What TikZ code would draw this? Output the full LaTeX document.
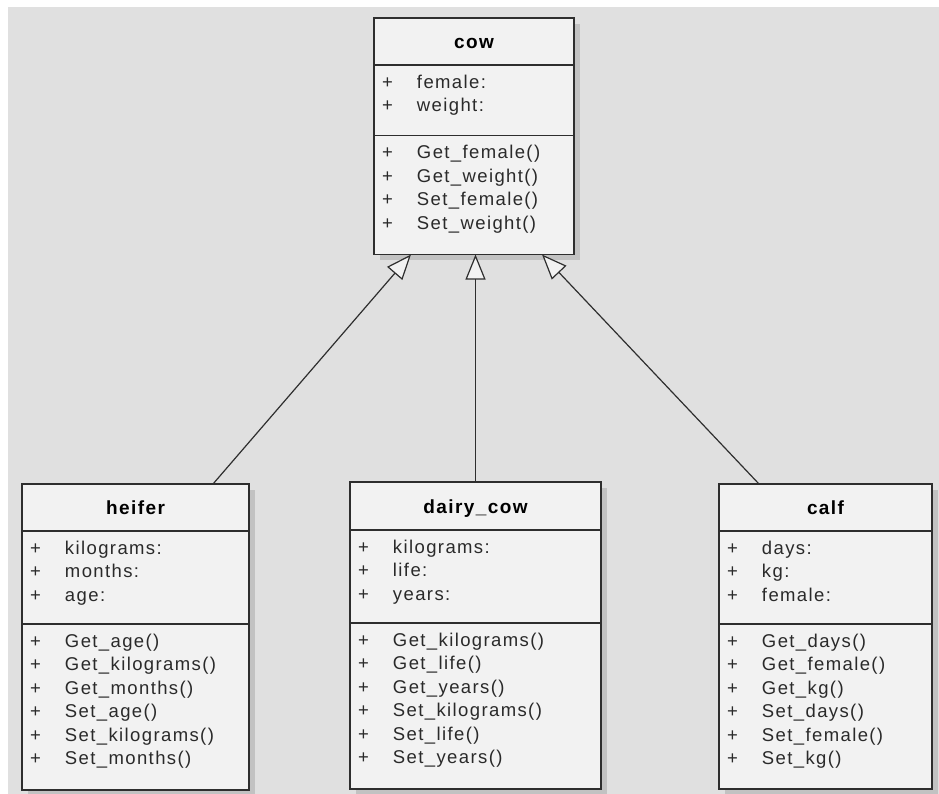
\documentclass[tikz,border=0pt]{standalone}
\usepackage{fontspec}
\usepackage{tikz}
\usetikzlibrary{positioning,arrows.meta,shadows}
\newfontfamily\umlfont{Liberation Sans}[LetterSpace=7.5]
\definecolor{bg}{HTML}{E0E0E0}
\definecolor{boxfill}{HTML}{F2F2F2}
\definecolor{shade}{HTML}{C2C2C2}
\definecolor{edge}{HTML}{2E2E2E}
\definecolor{ink}{HTML}{2A2A2A}
\newcommand{\umlplus}{\makebox[35pt][l]{+}}
\tikzset{
  clsbox/.style={draw=edge, line width=1.2pt, fill=boxfill, outer sep=0pt,
    drop shadow={shadow xshift=6pt, shadow yshift=-6pt, fill=shade, opacity=1}},
  clshead/.style={clsbox, minimum height=47pt, inner sep=0pt, anchor=north west,
    text height=14.5pt, text depth=0pt,
    text=black, font=\umlfont\bfseries\fontsize{19}{22}\selectfont},
  clsbody/.style={clsbox, align=left, inner xsep=8pt, inner ysep=0pt, text height=23.5pt,
    text=ink, font=\umlfont\fontsize{18.5}{23.4}\selectfont},
  isa/.style={draw=edge, line width=1.2pt, -{Triangle[length=25pt, width=20pt, fill=boxfill]}},
}

\begin{document}
\begin{tikzpicture}[x=1pt, y=-1pt]
\useasboundingbox (0,0) rectangle (939,794);
\fill[bg] (8,7) rectangle (939,794);

% parent class
\node[clshead, minimum width=200pt] (cow) at (374,18) {cow};
\node[clsbody, text width=184pt, text depth=47pt, below=0pt of cow] (cow-att)
  {\umlplus female:\\ \umlplus weight:};
\node[clsbody, text width=184pt, text depth=95.5pt, below=0pt of cow-att] (cow-op)
  {\umlplus Get\_female()\\ \umlplus Get\_weight()\\ \umlplus Set\_female()\\ \umlplus Set\_weight()};

% subclasses
\node[clshead, minimum width=227pt] (heifer) at (22,484) {heifer};
\node[clsbody, text width=211pt, text depth=69.5pt, below=0pt of heifer] (heifer-att)
  {\umlplus kilograms:\\ \umlplus months:\\ \umlplus age:};
\node[clsbody, text width=211pt, text depth=142.5pt, below=0pt of heifer-att] (heifer-op)
  {\umlplus Get\_age()\\ \umlplus Get\_kilograms()\\ \umlplus Get\_months()\\
   \umlplus Set\_age()\\ \umlplus Set\_kilograms()\\ \umlplus Set\_months()};

\node[clshead, minimum width=251pt, minimum height=48pt] (dairy) at (350,482) {dairy\_cow};
\node[clsbody, text width=235pt, text depth=69.5pt, below=0pt of dairy] (dairy-att)
  {\umlplus kilograms:\\ \umlplus life:\\ \umlplus years:};
\node[clsbody, text width=235pt, text depth=142.5pt, below=0pt of dairy-att] (dairy-op)
  {\umlplus Get\_kilograms()\\ \umlplus Get\_life()\\ \umlplus Get\_years()\\
   \umlplus Set\_kilograms()\\ \umlplus Set\_life()\\ \umlplus Set\_years()};

\node[clshead, minimum width=213pt] (calf) at (719,484) {calf};
\node[clsbody, text width=197pt, text depth=69.5pt, below=0pt of calf] (calf-att)
  {\umlplus days:\\ \umlplus kg:\\ \umlplus female:};
\node[clsbody, text width=197pt, text depth=141.5pt, below=0pt of calf-att] (calf-op)
  {\umlplus Get\_days()\\ \umlplus Get\_female()\\ \umlplus Get\_kg()\\
   \umlplus Set\_days()\\ \umlplus Set\_female()\\ \umlplus Set\_kg()};

% generalisation
\draw[isa] ([xshift=-36pt]heifer.north east) -- ([xshift=37pt]cow-op.south west);
\draw[isa] (dairy.north) -- (dairy.north |- cow-op.south);
\draw[isa] ([xshift=40pt]calf.north west) -- ([xshift=-32pt]cow-op.south east);
\end{tikzpicture}
\end{document}
